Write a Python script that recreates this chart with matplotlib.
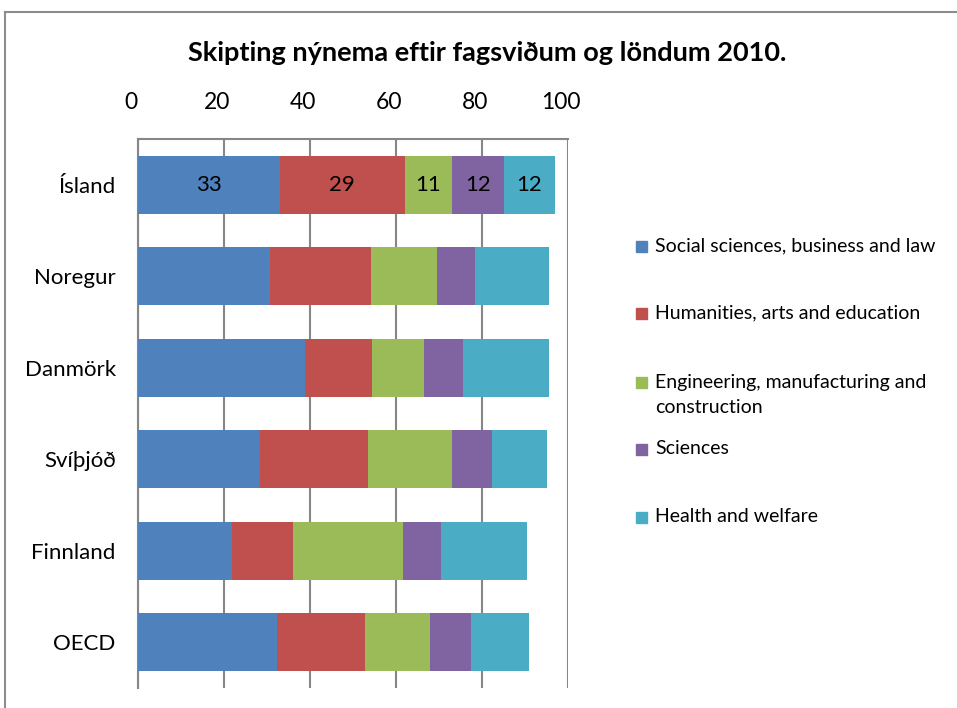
import matplotlib.pyplot as plt
from matplotlib.lines import Line2D
from matplotlib.patches import Rectangle
from matplotlib.transforms import ScaledTranslation
import numpy as np

countries = ["Ísland", "Noregur", "Danmörk", "Svíþjóð", "Finnland", "OECD"]
fields = [
    "Social sciences, business and law",
    "Humanities, arts and education",
    "Engineering, manufacturing and\nconstruction",
    "Sciences",
    "Health and welfare",
]
social = [33, 30.7, 38.8, 28.4, 21.9, 32.3]
humanities = [29, 23.5, 15.6, 25.1, 14.1, 20.5]
engineering = [11, 15.3, 12.1, 19.5, 25.6, 15.1]
sciences = [12, 8.9, 9.1, 9.3, 8.9, 9.5]
health = [12, 17.2, 20.0, 12.8, 20.0, 13.5]
iceland_labels = ["33", "29", "11", "12", "12"]

colors = ["#4F81BD", "#C0504D", "#9BBB59", "#8064A2", "#4BACC6"]
FONT = "Lato"
GRID = "#868686"

plt.rcParams["font.family"] = [FONT, "DejaVu Sans"]

fig = plt.figure(figsize=(9.57, 7.08), dpi=100)
ax = fig.add_axes([138 / 957, 20 / 708, 430 / 957, 549 / 708])

series = [social, humanities, engineering, sciences, health]
y = np.arange(len(countries))
left = np.zeros(len(countries))
for vals, col, name in zip(series, colors, fields):
    ax.barh(y, vals, left=left, height=0.63, color=col, label=name, zorder=3)
    left += np.array(vals)

# data labels on the first bar only
left0 = 0
for vals, lab in zip(series, iceland_labels):
    ax.text(left0 + vals[0] / 2, 0, lab, ha="center", va="center",
            fontsize=16, color="black", zorder=4)
    left0 += vals[0]

ax.set_xlim(0, 100)
ax.set_ylim(5.5, -0.5)
ax.set_xticks(range(0, 101, 20))
ax.xaxis.tick_top()
ax.tick_params(axis="x", length=0, pad=19, labelsize=16.5)
ax.set_xticklabels([str(v) for v in range(0, 101, 20)])
shift = ScaledTranslation(-7 / 100, 0, fig.dpi_scale_trans)
for lbl in ax.get_xticklabels():
    lbl.set_transform(lbl.get_transform() + shift)
ax.set_yticks(y)
ax.set_yticklabels(countries, fontsize=16)
ax.tick_params(axis="y", length=0, pad=16)

ax.grid(True, axis="x", color=GRID, linewidth=1.5, zorder=0)
for s in ["right", "bottom"]:
    ax.spines[s].set_visible(False)
for s in ["top", "left"]:
    ax.spines[s].set_color(GRID)
    ax.spines[s].set_linewidth(1.5)

fig.text(487 / 957, 1 - 53 / 708, "Skipting nýnema eftir fagsviðum og löndum 2010.",
         ha="center", va="center", fontsize=19.5, fontweight="bold")

# legend drawn by hand to match the spaced layout
leg_y = [246, 313, 395, 449, 517]
for col, name, yy in zip(colors, fields, leg_y):
    sq_y = yy - 13 if "\n" in name else yy
    fig.patches.append(Rectangle((636 / 957, 1 - (sq_y + 6) / 708), 11 / 957, 11 / 708,
                                 transform=fig.transFigure, color=col))
    fig.text(655 / 957, 1 - yy / 708, name, ha="left", va="center",
             fontsize=14, linespacing=1.55)

# outer chart border
fig.add_artist(Line2D([5 / 957, 1], [1 - 12 / 708] * 2, color="#8c8c8c", lw=1.5))
fig.add_artist(Line2D([5 / 957] * 2, [0, 1 - 12 / 708], color="#8c8c8c", lw=1.5))

fig.savefig("out.png", dpi=100)
